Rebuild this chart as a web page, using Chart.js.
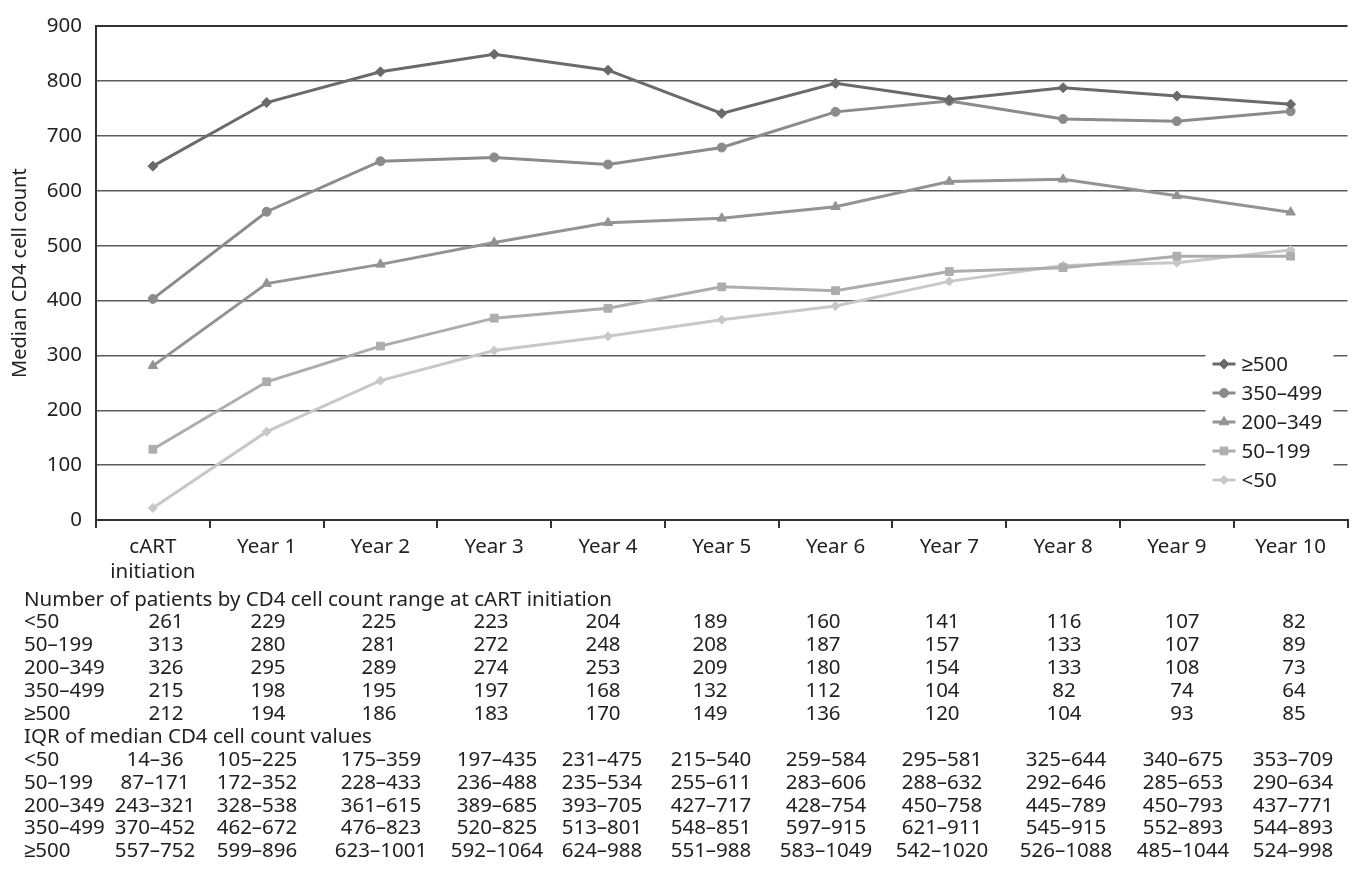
<!DOCTYPE html>
<html>
<head>
<meta charset="utf-8">
<script src="https://cdn.jsdelivr.net/npm/chart.js@4.4.0/dist/chart.umd.min.js"></script>
<style>
  body { margin: 0; background: #fff; }
  #wrap { position: relative; width: 1354px; height: 883px; font-family: "Noto Sans", sans-serif; color: #222; }
  #chartBox { position: absolute; left: 0; top: 0; width: 1354px; height: 590px; }
  .t { position: absolute; font-size: 20.5px; line-height: 22px; white-space: nowrap; transform: translate(-50%, -50%); }
  .t.left { transform: translate(0, -50%); }
</style>
</head>
<body>
<div id="wrap">
  <div id="chartBox"><canvas id="cd4Chart"></canvas></div>
  <div id="table"></div>
</div>
<script>
// categories + series (median CD4)
const categories = [['cART', 'initiation'], 'Year 1', 'Year 2', 'Year 3', 'Year 4', 'Year 5',
  'Year 6', 'Year 7', 'Year 8', 'Year 9', 'Year 10'];
const seriesNames = ['≥500', '350–499', '200–349', '50–199', '<50'];
const cd4Over500 = [645, 761, 817, 849, 820, 741, 796, 766, 788, 773, 758];
const cd4From350 = [403, 562, 654, 661, 648, 679, 744, 764, 731, 727, 745];
const cd4From200 = [281, 431, 466, 506, 542, 550, 571, 617, 621, 591, 561];
const cd4From50 = [129, 252, 317, 368, 386, 425, 418, 453, 460, 481, 481];
const cd4Under50 = [22, 161, 254, 309, 335, 365, 390, 435, 464, 469, 492];
const yTicks = [0, 100, 200, 300, 400, 500, 600, 700, 800, 900];

// table below the chart
const tableRows = ['<50', '50–199', '200–349', '350–499', '≥500'];
const patientsUnder50 = [261, 229, 225, 223, 204, 189, 160, 141, 116, 107, 82];
const patients50 = [313, 280, 281, 272, 248, 208, 187, 157, 133, 107, 89];
const patients200 = [326, 295, 289, 274, 253, 209, 180, 154, 133, 108, 73];
const patients350 = [215, 198, 195, 197, 168, 132, 112, 104, 82, 74, 64];
const patientsOver500 = [212, 194, 186, 183, 170, 149, 136, 120, 104, 93, 85];
const iqrUnder50 = ['14–36', '105–225', '175–359', '197–435', '231–475', '215–540', '259–584', '295–581', '325–644', '340–675', '353–709'];
const iqr50 = ['87–171', '172–352', '228–433', '236–488', '235–534', '255–611', '283–606', '288–632', '292–646', '285–653', '290–634'];
const iqr200 = ['243–321', '328–538', '361–615', '389–685', '393–705', '427–717', '428–754', '450–758', '445–789', '450–793', '437–771'];
const iqr350 = ['370–452', '462–672', '476–823', '520–825', '513–801', '548–851', '597–915', '621–911', '545–915', '552–893', '544–893'];
const iqrOver500 = ['557–752', '599–896', '623–1001', '592–1064', '624–988', '551–988', '583–1049', '542–1020', '526–1088', '485–1044', '524–998'];

// layout of the table text (pixel centres)
const countCols = [166, 268, 379, 491, 603, 710, 823, 942, 1064, 1182, 1294];
const iqrCols = [155, 257, 381, 497, 602, 711, 826, 942, 1066, 1183, 1293];

const FONT = '"Noto Sans", sans-serif';
const seriesColors = ['#6a6a6a', '#8b8b8b', '#939393', '#adadad', '#c8c8c8'];
const seriesShapes = ['rectRot', 'circle', 'triangle', 'rect', 'rectRot'];
const seriesRadius = [5, 4.5, 5.5, 5.5, 4.5];
const seriesValues = [cd4Over500, cd4From350, cd4From200, cd4From50, cd4Under50];

const datasets = seriesNames.map((name, i) => ({
  label: name,
  data: seriesValues[i],
  borderColor: seriesColors[i],
  backgroundColor: seriesColors[i],
  pointBackgroundColor: seriesColors[i],
  pointBorderColor: seriesColors[i],
  pointStyle: seriesShapes[i],
  pointRadius: seriesRadius[i],
  pointBorderWidth: 1,
  borderWidth: 3,
  tension: 0
}));

// legend sits inside the plot, over the gridlines
const insideLegend = {
  id: 'insideLegend',
  afterDatasetsDraw(chart) {
    const ctx = chart.ctx;
    const x0 = chart.chartArea.right - 142;
    ctx.save();
    ctx.fillStyle = '#fff';
    ctx.fillRect(x0, 349, 128, 146);
    chart.data.datasets.forEach((ds, i) => {
      const y = 364 + i * 29;
      ctx.strokeStyle = ds.borderColor;
      ctx.lineWidth = 3;
      ctx.beginPath();
      ctx.moveTo(x0 + 7, y);
      ctx.lineTo(x0 + 30, y);
      ctx.stroke();
      ctx.fillStyle = ds.pointBackgroundColor;
      ctx.lineWidth = 1;
      Chart.helpers.drawPoint(ctx, { pointStyle: ds.pointStyle, radius: ds.pointRadius, borderWidth: 1 }, x0 + 18.5, y);
      ctx.fillStyle = '#222';
      ctx.font = '20.5px ' + FONT;
      ctx.textBaseline = 'middle';
      ctx.textAlign = 'left';
      ctx.fillText(ds.label, x0 + 36, y + 1);
    });
    ctx.restore();
  }
};

new Chart(document.getElementById('cd4Chart'), {
  type: 'line',
  data: { labels: categories, datasets: datasets },
  options: {
    responsive: true,
    maintainAspectRatio: false,
    animation: false,
    // top label overflow (~12px) is added on top of this padding
    layout: { padding: { top: 7.7, right: 0, left: 0, bottom: 0 } },
    plugins: {
      legend: { display: false },
      tooltip: { enabled: false }
    },
    scales: {
      x: {
        offset: true,
        grid: {
          offset: true,
          drawOnChartArea: true,
          color: (c) => (c.index === categories.length ? '#555' : 'rgba(0,0,0,0)'),
          lineWidth: 2,
          tickColor: '#333',
          tickLength: 8
        },
        border: { color: '#333', width: 2 },
        ticks: {
          color: '#222',
          font: { family: FONT, size: 20.5, lineHeight: 1.25 },
          padding: 6,
          maxRotation: 0,
          autoSkip: false
        },
        afterFit: (scale) => { scale.height = 70; }
      },
      y: {
        min: 0,
        max: 900,
        afterBuildTicks: (scale) => { scale.ticks = yTicks.map(v => ({ value: v })); },
        grid: {
          color: (c) => (c.tick && c.tick.value === 900 ? '#333' : '#5c5c5c'),
          lineWidth: (c) => (c.tick && c.tick.value === 900 ? 2 : 1.5),
          drawTicks: false
        },
        border: { color: '#333', width: 2 },
        ticks: {
          color: '#222',
          font: { family: FONT, size: 20.5 },
          padding: 14
        },
        title: {
          display: true,
          text: 'Median CD4 cell count',
          color: '#222',
          font: { family: FONT, size: 20 },
          padding: { top: 8, bottom: 0 }
        },
        afterFit: (scale) => { scale.width = 96; }
      }
    }
  },
  plugins: [insideLegend]
});

// the patient / IQR table under the axis
const tableBox = document.getElementById('table');
function addText(txt, x, y, left) {
  const el = document.createElement('div');
  el.className = left ? 't left' : 't';
  el.style.left = x + 'px';
  el.style.top = y + 'px';
  el.textContent = txt;
  tableBox.appendChild(el);
}

const patientRows = [patientsUnder50, patients50, patients200, patients350, patientsOver500];
const iqrRows = [iqrUnder50, iqr50, iqr200, iqr350, iqrOver500];

addText('Number of patients by CD4 cell count range at cART initiation', 24, 598, true);
patientRows.forEach((row, r) => {
  const y = 620 + r * 23;
  addText(tableRows[r], 24, y, true);
  row.forEach((v, c) => addText(String(v), countCols[c], y));
});

addText('IQR of median CD4 cell count values', 24, 735, true);
iqrRows.forEach((row, r) => {
  const y = 758 + r * 22.8;
  addText(tableRows[r], 24, y, true);
  row.forEach((v, c) => addText(v, iqrCols[c], y));
});
</script>
</body>
</html>
